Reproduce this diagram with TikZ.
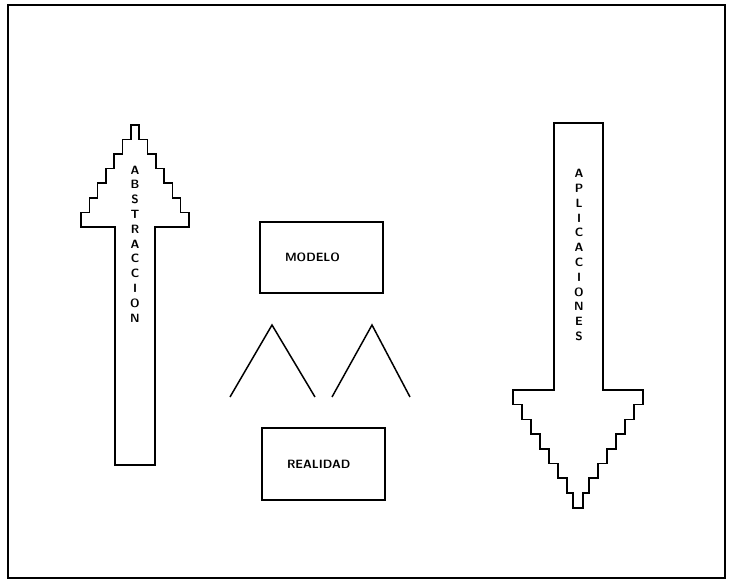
\documentclass[tikz,border=0pt]{standalone}
\usepackage{tikz}
\usetikzlibrary{positioning}

\tikzset{
  shape line/.style={line width=1.5pt, line join=miter},
  letters/.style={align=center, font={\sffamily\bfseries\fontsize{12}{14.8}\selectfont}},
  box/.style={draw, line width=1.5pt, minimum height=71, inner xsep=25, text width=73,
    align=left, font={\sffamily\bfseries\fontsize{12}{13}\selectfont}}
}

\begin{document}
\begin{tikzpicture}[x=1pt, y=-1pt]
\useasboundingbox (0,0) rectangle (732,585);
\draw[line width=1.2pt] (8,5) rectangle (725,578);
% upward arrow
\draw[shape line] (115,465) -- (115,227) -- (81,227)
  \foreach \i in {1,...,6} { -- ++(0,-14.6) -- ++(8.3,0) }
  -- ++(0,-14.6) -- ++(8.4,0)
  \foreach \i in {1,...,6} { -- ++(0,14.6) -- ++(8.3,0) }
  -- ++(0,14.6) -- (155,227) -- (155,465) -- cycle;
\node[letters] (abs) at (135,244) {A\\B\\S\\T\\R\\A\\C\\C\\I\\O\\N};
% downward arrow
\draw[shape line] (554,123) -- (554,390) -- (513,390)
  \foreach \i in {1,...,6} { -- ++(0,14.7) -- ++(9,0) }
  -- ++(0,14.7) -- ++(6,0) -- ++(0,15) -- ++(10,0) -- ++(0,-15) -- ++(6,0)
  \foreach \i in {1,...,6} { -- ++(0,-14.7) -- ++(9,0) }
  -- ++(0,-14.7) -- (603,390) -- (603,123) -- cycle;
\node[letters] (apl) at (579,255) {A\\P\\L\\I\\C\\A\\C\\I\\O\\N\\E\\S};
% model and reality
\node[box, minimum width=123] (modelo) at (321.5,257.5) {MODELO};
\node[box, minimum width=123, minimum height=72] (realidad) at (323.5,464) {REALIDAD};
% carets
\draw[shape line] (230,397) -- (272,325) -- (315,397);
\draw[shape line] (332,397) -- (372,325) -- (410,397);
\end{tikzpicture}
\end{document}
